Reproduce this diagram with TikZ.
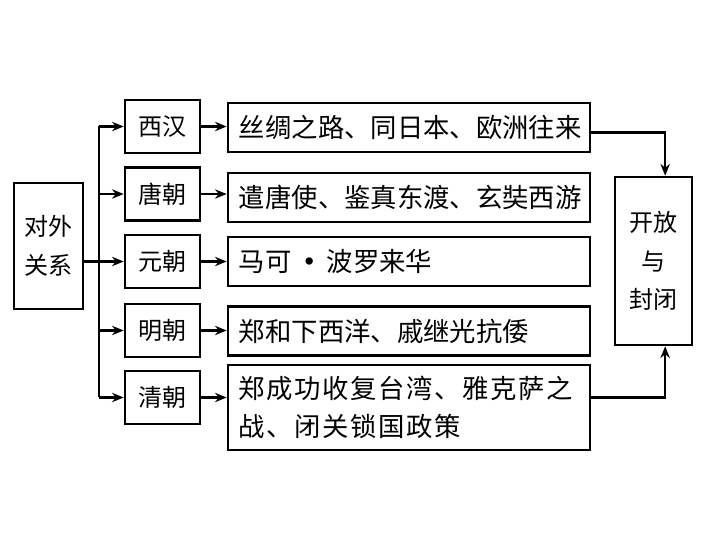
\documentclass[tikz,border=0pt]{standalone}
\usepackage{fontspec}
\setmainfont{Noto Sans CJK SC}
\usetikzlibrary{arrows.meta}
\begin{document}
\begin{tikzpicture}[x=0.03cm,y=-0.03cm,
    box/.style={draw,line width=2.2pt,inner sep=0pt,align=center,
      font=\fontsize{20.5}{33}\selectfont},
    era/.style={box,minimum width=2.25cm,minimum height=1.59cm},
    item/.style={box,minimum height=1.47cm,inner xsep=0.33cm,text width=10.2cm,
      align=left,font=\fontsize{22.5}{33}\selectfont},
    arr/.style={line width=1.8pt,-{Stealth[length=10pt,width=8pt]}}]
  \useasboundingbox (0,0) rectangle (720,540);
  % 左侧总框
  \node[box,minimum width=2.07cm,minimum height=3.78cm] (rel) at (48.5,246) {对外\\关系};
  % 各朝代
  \node[era] (e1) at (162.5,126.5) {西汉};
  \node[era] (e2) at (162.5,194) {唐朝};
  \node[era] (e3) at (162.5,261.5) {元朝};
  \node[era] (e4) at (162.5,330.5) {明朝};
  \node[era] (e5) at (162.5,397.5) {清朝};
  % 史实
  \node[item] (c1) at (409,127.5) {丝绸之路、同日本、欧洲往来};
  \node[item] (c2) at (409,197.5) {遣唐使、鉴真东渡、玄奘西游};
  \node[item] (c3) at (409,261.5) {马可\,\textbf{•}\,波罗来华};
  \node[item] (c4) at (409,331) {郑和下西洋、戚继光抗倭};
  \node[item,minimum height=2.55cm] (c5) at (409,407.5)
    {\addfontfeature{LetterSpace=6}郑成功收复台湾、雅克萨之\\\addfontfeature{LetterSpace=6}战、闭关锁国政策};
  \node[box,minimum width=2.31cm,minimum height=5.04cm] (res) at (653.5,261) {开放\\与\\封闭};
  % 连线
  \coordinate (t) at (99,261.5);
  \draw[line width=1.8pt] (rel.east |- e3) -- (t);
  \draw[line width=1.8pt] (t |- e1) -- (t |- e5);
  \foreach \i in {1,...,5} {
    \draw[arr] (t |- e\i) -- (e\i.west);
    \draw[arr] (e\i.east) -- (e\i.east -| c\i.west);
  }
  \draw[arr] ([yshift=-0.15cm]c1.east) -| ([xshift=0.35cm]res.north);
  \draw[arr] (c5.east |- e5) -| ([xshift=0.35cm]res.south);
\end{tikzpicture}
\end{document}
